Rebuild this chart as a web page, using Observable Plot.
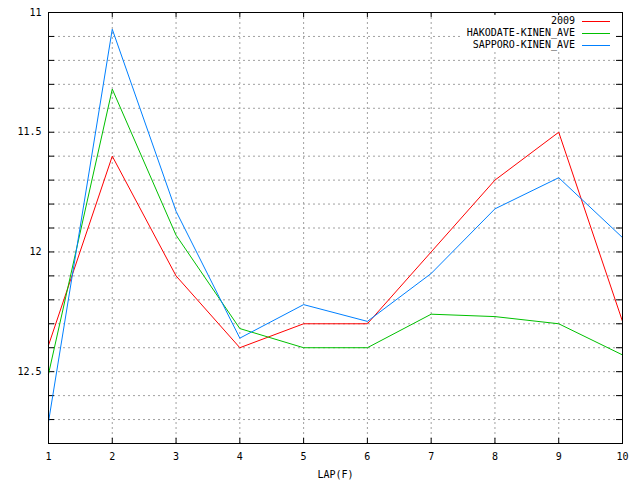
<!DOCTYPE html>
<html>
<head>
<meta charset="utf-8">
<script src="https://cdn.jsdelivr.net/npm/d3@7"></script>
<script src="https://cdn.jsdelivr.net/npm/@observablehq/plot@0.6"></script>
<style>
  body { margin: 0; background: white; }
  #wrap { position: relative; width: 640px; height: 480px; }
  #legend { position: absolute; left: 462px; top: 15px; width: 153px; background: white;
    font-family: "DejaVu Sans Mono", monospace; font-size: 10px; color: black; }
  #legend .row { height: 12px; line-height: 12px; display: flex; justify-content: flex-end; align-items: center; }
  #legend .swatch { display: inline-block; width: 28px; height: 1px; margin-left: 7px; margin-right: 5px; }
</style>
</head>
<body>
<div id="wrap"><div id="chart1"></div><div id="legend"></div></div>
<script>
const laps = [1, 2, 3, 4, 5, 6, 7, 8, 9, 10]
const series = ["2009", "HAKODATE-KINEN_AVE", "SAPPORO-KINEN_AVE"]
const colors = ["#ff0000", "#00c000", "#0080ff"]
const t2009 = [12.39, 11.6, 12.1, 12.4, 12.3, 12.3, 12.0, 11.7, 11.5, 12.29]
const hakodate = [12.51, 11.32, 11.93, 12.32, 12.4, 12.4, 12.26, 12.27, 12.3, 12.43]
const sapporo = [12.71, 11.07, 11.83, 12.36, 12.22, 12.29, 12.09, 11.82, 11.69, 11.94]
const yLabels = [11, 11.5, 12, 12.5]
const yMinor = [11, 11.1, 11.2, 11.3, 11.4, 11.5, 11.6, 11.7, 11.8, 11.9, 12, 12.1, 12.2, 12.3, 12.4, 12.5, 12.6, 12.7, 12.8]

const values = [t2009, hakodate, sapporo]
const rows = series.flatMap((s, i) => laps.map((lap, j) => ({series: s, lap: lap, time: values[i][j]})))

const innerGridY = yMinor.filter(d => d > 11 && d < 12.8)
const innerGridX = laps.filter(d => d > 1 && d < 10)

let chart1 = Plot.plot({
  width: 640,
  height: 480,
  marginLeft: 48,
  marginRight: 18,
  marginTop: 12,
  marginBottom: 37,
  style: {
    fontFamily: "DejaVu Sans Mono",
    fontSize: "10px",
    color: "black",
    background: "white"
  },
  x: { domain: [1, 10] },
  y: { domain: [11, 12.8], reverse: true },
  color: { domain: series, range: colors },
  marks: [
    Plot.gridY(innerGridY, { stroke: "#a0a0a0", strokeOpacity: 1, strokeDasharray: "2,3" }),
    Plot.gridX(innerGridX, { stroke: "#a0a0a0", strokeOpacity: 1, strokeDasharray: "2,3" }),
    // inward ticks on all four sides
    Plot.tickY(yMinor, { y: d => d, insetRight: 568, stroke: "black" }),
    Plot.tickY(yMinor, { y: d => d, insetLeft: 568, stroke: "black" }),
    Plot.tickX(laps, { x: d => d, insetTop: 426, stroke: "black" }),
    Plot.tickX(laps, { x: d => d, insetBottom: 426, stroke: "black" }),
    Plot.line(rows, { x: "lap", y: "time", z: "series", stroke: "series", strokeWidth: 1 }),
    Plot.axisY({ ticks: yLabels, tickSize: 0, tickPadding: 7, tickFormat: d => String(d), label: null }),
    Plot.axisX({ ticks: laps, tickSize: 0, tickPadding: 9, tickFormat: d => String(d),
      label: "LAP(F)", labelAnchor: "center", labelArrow: "none", labelOffset: 34 }),
    Plot.frame({ stroke: "black", strokeWidth: 1 })
  ]
});

d3.select("#chart1").append(() => chart1);

let legend = d3.select("#legend")
series.forEach((s, i) => {
  let row = legend.append("div").attr("class", "row")
  row.append("span").text(s)
  row.append("span").attr("class", "swatch").style("background", colors[i])
})
</script>
</body>
</html>
